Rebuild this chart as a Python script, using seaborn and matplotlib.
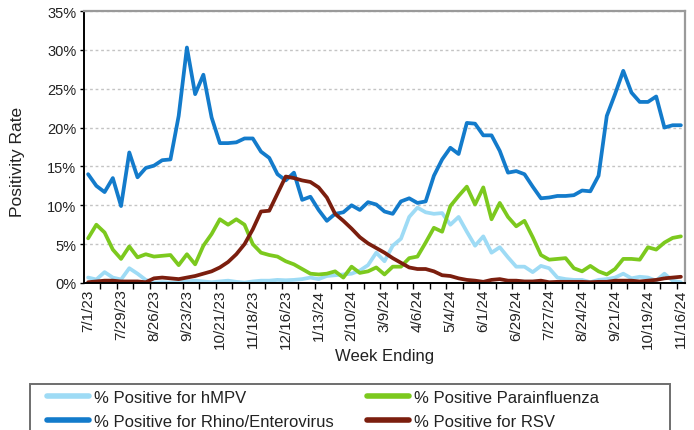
import numpy as np
import pandas as pd
import matplotlib
matplotlib.use("Agg")
import matplotlib.pyplot as plt
import seaborn as sns
from matplotlib.lines import Line2D
from matplotlib.patches import Rectangle
from matplotlib.ticker import FixedLocator, FuncFormatter

# ---------------- data ----------------
weeks = pd.date_range("2023-07-01", "2024-11-16", freq="7D")

hmpv = [0.7, 0.45, 1.4, 0.7, 0.45, 1.9, 1.2, 0.4, 0.05, 0.1,
        0.05, 0.1, 0.2, 0.3, 0.2, 0.1, 0.2, 0.3, 0.15, 0.05,
        0.2, 0.3, 0.3, 0.4, 0.35, 0.4, 0.5, 0.7, 0.5, 0.9,
        1.0, 1.1, 1.2, 1.6, 2.3, 3.9, 2.8, 4.8, 5.7, 8.5,
        9.7, 9.1, 8.9, 9.0, 7.5, 8.5, 6.6, 4.8, 6.0, 3.9,
        4.6, 3.3, 2.1, 2.1, 1.4, 2.2, 1.9, 0.7, 0.5, 0.4,
        0.4, 0.1, 0.4, 0.5, 0.7, 1.2, 0.6, 0.8, 0.7, 0.3,
        1.2, 0.3, 0.1]

rhino = [14.0, 12.5, 11.7, 13.5, 9.9, 16.8, 13.6, 14.8, 15.1, 15.8,
         15.9, 21.5, 30.3, 24.3, 26.8, 21.3, 18.0, 18.0, 18.1, 18.6,
         18.6, 16.9, 16.1, 14.0, 13.2, 14.2, 10.7, 11.1, 9.4, 8.0,
         8.9, 9.1, 10.0, 9.4, 10.4, 10.1, 9.2, 8.9, 10.5, 10.9,
         10.3, 10.5, 13.8, 15.9, 17.4, 16.6, 20.6, 20.5, 19.0, 19.0,
         17.0, 14.2, 14.4, 14.0, 12.4, 10.9, 11.0, 11.2, 11.2, 11.3,
         11.9, 11.8, 13.8, 21.5, 24.3, 27.3, 24.5, 23.3, 23.3, 24.0,
         20.0, 20.3, 20.3]

para = [5.75, 7.5, 6.5, 4.3, 3.1, 4.7, 3.3, 3.7, 3.4, 3.5,
        3.6, 2.3, 3.7, 2.4, 4.8, 6.3, 8.2, 7.5, 8.2, 7.5,
        5.0, 3.9, 3.6, 3.4, 2.8, 2.4, 1.8, 1.2, 1.1, 1.2,
        1.5, 0.7, 2.1, 1.3, 1.5, 2.0, 1.1, 2.1, 2.1, 3.2,
        3.4, 5.2, 7.1, 6.6, 9.9, 11.2, 12.4, 10.1, 12.3, 8.2,
        10.3, 8.5, 7.3, 8.0, 5.9, 3.6, 3.0, 3.1, 3.2, 1.9,
        1.5, 2.2, 1.5, 1.1, 1.8, 3.1, 3.1, 3.0, 4.6, 4.3,
        5.2, 5.8, 6.0]

rsv = [0.1, 0.2, 0.3, 0.3, 0.2, 0.2, 0.2, 0.1, 0.6, 0.7,
       0.6, 0.5, 0.7, 0.9, 1.2, 1.5, 2.0, 2.7, 3.7, 5.0,
       6.9, 9.2, 9.3, 11.5, 13.7, 13.5, 13.2, 13.0, 12.3, 11.0,
       8.9, 8.0, 7.0, 5.9, 5.1, 4.5, 3.9, 3.2, 2.6, 2.0,
       1.8, 1.8, 1.5, 1.0, 0.9, 0.6, 0.4, 0.3, 0.15, 0.4,
       0.5, 0.3, 0.3, 0.2, 0.2, 0.3, 0.1, 0.15, 0.15, 0.15,
       0.15, 0.1, 0.15, 0.15, 0.3, 0.3, 0.3, 0.2, 0.3, 0.4,
       0.6, 0.7, 0.8]

series_names = ["% Positive for hMPV", "% Positive Parainfluenza",
                "% Positive for Rhino/Enterovirus", "% Positive for RSV"]
series_values = [hmpv, para, rhino, rsv]
series_colors = ["#9EDBF5", "#7CC91E", "#137BCB", "#7B1E0E"]

yticks = [0, 5, 10, 15, 20, 25, 30, 35]

week_labels = [f"{d.month}/{d.day}/{d.strftime('%y')}" for d in weeks]

# ---------------- long-form table ----------------
idx = np.arange(len(weeks))
df = pd.concat([pd.DataFrame({"week": idx, "value": v, "series": n})
                for n, v in zip(series_names, series_values)], ignore_index=True)
palette = dict(zip(series_names, series_colors))

# ---------------- plot ----------------
sns.set_style("white")
plt.rcParams["font.family"] = ["Liberation Sans", "DejaVu Sans"]

fig = plt.figure(figsize=(6.94, 4.31), dpi=100)
ax = fig.add_axes([84 / 694, 147 / 431, 601 / 694, 272 / 431])

sns.lineplot(data=df, x="week", y="value", hue="series", hue_order=series_names,
             palette=palette, linewidth=2.7, legend=False, ax=ax, sort=True)

ax.set_xlim(-0.5, len(weeks) - 0.5)
ax.set_ylim(0, 35)

# y axis
ax.set_yticks(yticks)
ax.yaxis.set_major_formatter(FuncFormatter(lambda v, p: f"{int(v)}%"))
ax.tick_params(axis="y", which="major", length=3, width=1, color="black",
               labelsize=10.5, pad=2.5, labelcolor="#222222", left=True)
ax.yaxis.grid(True, linestyle=(0, (2, 2)), color="#C4C4C4", linewidth=1)
ax.set_axisbelow(True)

# x axis
ax.xaxis.set_major_locator(FixedLocator(idx[::4]))
ax.set_xticklabels([week_labels[i] for i in idx[::4]], rotation=90)
ax.xaxis.set_minor_locator(FixedLocator(np.arange(1.5, len(weeks) - 0.5, 2)))
ax.tick_params(axis="x", which="major", length=0, labelsize=11, pad=4,
               labelcolor="#222222", bottom=True)
ax.tick_params(axis="x", which="minor", length=4, width=1, color="black", bottom=True)

ax.set_xlabel("Week Ending", fontsize=12, color="#222222")
ax.set_ylabel("Positivity Rate", fontsize=12.5, color="#222222")
ax.xaxis.set_label_coords(0.5, -0.24)
ax.xaxis.label.set_va("top")
ax.yaxis.set_label_coords(-0.098, 0.45)

for s in ["left", "bottom"]:
    ax.spines[s].set_color("black")
    ax.spines[s].set_linewidth(1.4)
for s in ["top", "right"]:
    ax.spines[s].set_color("#9A9A9A")
    ax.spines[s].set_linewidth(1.6)

# ---------------- legend ----------------
handles = {n: Line2D([], [], color=c, linewidth=4) for n, c in zip(series_names, series_colors)}
col1 = ["% Positive for hMPV", "% Positive for Rhino/Enterovirus"]
col2 = ["% Positive Parainfluenza", "% Positive for RSV"]
common = dict(loc="upper left", frameon=False, fontsize=12, handlelength=2.5,
              handletextpad=0.35, labelspacing=0.55, borderpad=0, borderaxespad=0)
leg1 = fig.legend([handles[n] for n in col1], col1,
                  bbox_to_anchor=(47 / 694, 1 - 391 / 431), **common)
leg2 = fig.legend([handles[n] for n in col2], col2,
                  bbox_to_anchor=(367 / 694, 1 - 391 / 431), **common)
for lg in (leg1, leg2):
    for t in lg.get_texts():
        t.set_color("#222222")

fig.patches.append(Rectangle((30 / 694, -0.05), 640 / 694, 0.05 + (1 - 385 / 431),
                             transform=fig.transFigure, fill=False,
                             edgecolor="#6E6E6E", linewidth=1.4))

fig.savefig("out.png", dpi=100)
